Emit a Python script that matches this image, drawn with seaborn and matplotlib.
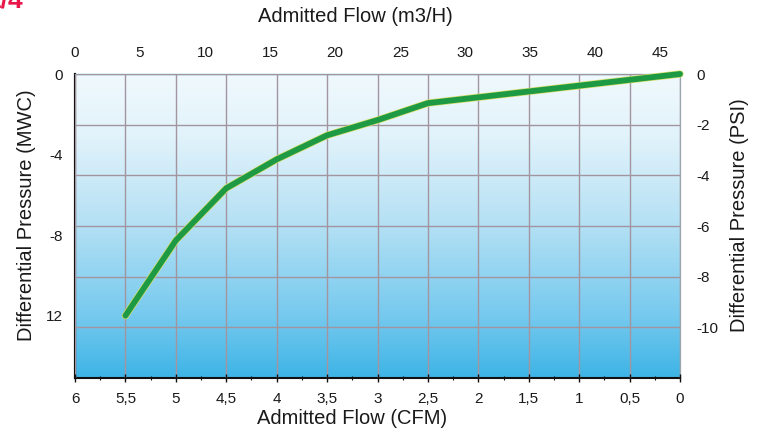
import numpy as np
import matplotlib
matplotlib.use("Agg")
import matplotlib.pyplot as plt
import seaborn as sns
import pandas as pd
from matplotlib import patheffects as pe
from matplotlib.colors import LinearSegmentedColormap
from matplotlib.ticker import FixedLocator, MultipleLocator

# Pressure-drop curve: flow (CFM) vs differential pressure (PSI)
flow_cfm = [5.5, 5.0, 4.5, 4.0, 3.5, 3.0, 2.5, 0.0]
pressure_psi = [-9.54, -6.57, -4.51, -3.37, -2.42, -1.82, -1.15, 0.0]

cfm_ticks = [6, 5.5, 5, 4.5, 4, 3.5, 3, 2.5, 2, 1.5, 1, 0.5, 0]
cfm_labels = ["6", "5,5", "5", "4,5", "4", "3,5", "3", "2,5", "2", "1,5", "1", "0,5", "0"]
m3h_ticks = [0, 5, 10, 15, 20, 25, 30, 35, 40, 45]
mwc_ticks = [0, -4, -8, -12]
mwc_labels = ["0", "-4", "-8", "12"]
psi_ticks = [0, -2, -4, -6, -8, -10]

sns.set_theme(style="white")
plt.rcParams["font.family"] = ["Liberation Sans", "DejaVu Sans"]

W, H = 762, 432
fig = plt.figure(figsize=(W / 100, H / 100), dpi=100)
ax = fig.add_axes([75 / W, 1 - 378 / H, 605 / W, 304 / H])

# sky-blue vertical gradient behind the plot
sky = LinearSegmentedColormap.from_list(
    "sky", [(0.0, "#f0f9fd"), (0.2, "#e2f3fb"), (0.5, "#b3e0f4"), (0.8, "#75c9ee"), (1.0, "#3db4e6")]
)
grad = np.linspace(0, 1, 256).reshape(-1, 1)
ax.imshow(grad, cmap=sky, extent=[6, 0, -12, 0], aspect="auto", origin="upper", zorder=0)

ax.set_xlim(6, 0)
ax.set_ylim(-12, 0)

df = pd.DataFrame({"cfm": flow_cfm, "psi": pressure_psi})
sns.lineplot(data=df, x="cfm", y="psi", ax=ax, sort=False, color="#1f9a44",
             lw=4.2, zorder=5, clip_on=False,
             path_effects=[pe.Stroke(linewidth=5.2, foreground="#d9df6a"), pe.Normal()])

# grid
ax.xaxis.set_major_locator(FixedLocator(cfm_ticks))
ax.xaxis.set_minor_locator(MultipleLocator(0.25))
ax.set_xticklabels(cfm_labels)
ax.yaxis.set_major_locator(FixedLocator(psi_ticks))
ax.grid(True, which="major", color="#a3959f", lw=1.0, zorder=1)
ax.set_axisbelow(False)
for gl in ax.get_xgridlines() + ax.get_ygridlines():
    gl.set_zorder(1)

tick_fs = 11
label_fs = 14.5
ink = "#1a1a1a"

# right axis: PSI
ax.yaxis.tick_right()
ax.yaxis.set_label_position("right")
ax.set_yticklabels([str(t) for t in psi_ticks])
ax.tick_params(axis="y", which="both", length=0, pad=12, labelsize=tick_fs, labelcolor=ink)
ax.tick_params(axis="x", which="major", direction="inout", length=6, width=1.0,
               color="#111111", pad=7, labelsize=tick_fs, labelcolor=ink, bottom=True)
ax.tick_params(axis="x", which="minor", direction="inout", length=3, width=0.8,
               color="#111111", bottom=True)

ax.set_xlabel("Admitted Flow (CFM)", fontsize=label_fs, color=ink)
ax.xaxis.set_label_coords((352 - 75) / 605, -(418 - 378) / 304, transform=ax.transAxes)
ax.xaxis.label.set_va("center")
ax.set_ylabel("Differential Pressure (PSI)", fontsize=label_fs, color=ink)
ax.yaxis.set_label_coords((740 - 75) / 605, (378 - 215) / 304, transform=ax.transAxes)
ax.yaxis.label.set_va("center")

for side in ["left", "bottom"]:
    ax.spines[side].set_color("#111111")
    ax.spines[side].set_linewidth(1.5)
ax.spines["top"].set_color("#86c6d6")
ax.spines["top"].set_linewidth(0.9)
ax.spines["right"].set_color("#9aa6ad")
ax.spines["right"].set_linewidth(0.9)

# left axis: MWC
k = 15.1 / 12.0
axl = ax.secondary_yaxis("left", functions=(lambda p: p * k, lambda m: m / k))
axl.set_yticks(mwc_ticks)
axl.set_yticklabels(mwc_labels)
axl.tick_params(length=0, pad=9, labelsize=tick_fs, labelcolor=ink)
axl.spines["left"].set_color("#111111")
axl.spines["left"].set_linewidth(1.5)
axl.set_ylabel("Differential Pressure (MWC)", fontsize=label_fs, color=ink)
axl.yaxis.set_label_coords((27 - 75) / 605, (378 - 215) / 304, transform=ax.transAxes)
axl.yaxis.label.set_va("center")

# top axis: m3/H
q = 46.5 / 6.0
axt = ax.secondary_xaxis("top", functions=(lambda c: (6 - c) * q, lambda v: 6 - v / q))
axt.set_xticks(m3h_ticks)
axt.set_xticklabels([str(t) for t in m3h_ticks])
axt.tick_params(length=0, pad=10, labelsize=tick_fs, labelcolor=ink)
axt.spines["top"].set_color("#86c6d6")
axt.spines["top"].set_linewidth(0.9)
axt.set_xlabel("Admitted Flow (m3/H)", fontsize=label_fs, color=ink)
axt.xaxis.set_label_coords((355 - 75) / 605, (378 - 17) / 304, transform=ax.transAxes)
axt.xaxis.label.set_va("center")

fig.text(-14 / W, 1 - 8 / H, "1/4", color="#e8174a", fontsize=19, fontweight="bold",
         ha="left", va="baseline")

fig.savefig("out.png", dpi=100)
